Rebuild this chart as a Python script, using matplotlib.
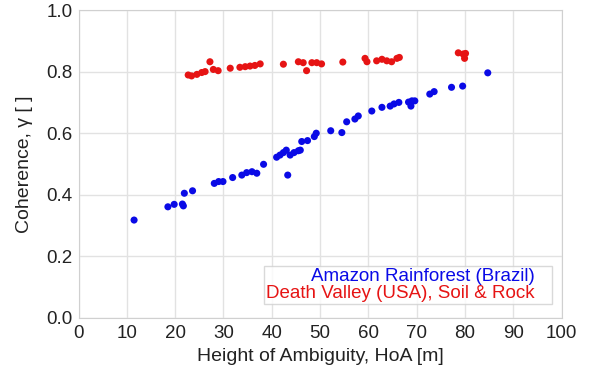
import matplotlib
matplotlib.use("Agg")
import matplotlib.pyplot as plt
from matplotlib.lines import Line2D

plt.rcParams['font.family'] = ['Liberation Sans', 'DejaVu Sans']

amazon_hoa = [11.5, 18.5, 19.8, 21.5, 21.7, 21.9, 23.6, 28.1, 29.0, 29.9, 31.9, 33.8, 34.8,
              35.9, 36.9, 38.3, 41.0, 41.7, 42.4, 43.0, 43.3, 43.8, 44.6, 45.5, 45.9, 46.2,
              47.4, 48.8, 49.2, 52.2, 54.5, 55.5, 57.2, 57.9, 60.7, 62.8, 64.5, 65.3, 66.3,
              68.3, 68.8, 69.0, 69.6, 72.7, 73.6, 77.2, 79.5, 84.7]
amazon_coh = [0.318, 0.361, 0.369, 0.370, 0.364, 0.405, 0.413, 0.437, 0.443, 0.443, 0.456,
              0.464, 0.472, 0.475, 0.470, 0.499, 0.522, 0.529, 0.537, 0.545, 0.464, 0.529,
              0.537, 0.543, 0.545, 0.573, 0.576, 0.589, 0.600, 0.608, 0.602, 0.637, 0.646,
              0.656, 0.672, 0.684, 0.688, 0.695, 0.700, 0.701, 0.688, 0.705, 0.705, 0.727,
              0.735, 0.749, 0.753, 0.796]

dv_hoa = [22.7, 23.4, 24.5, 25.5, 26.2, 27.2, 27.9, 28.9, 31.4, 33.4, 34.5, 35.5, 36.5,
          37.6, 42.4, 45.5, 46.5, 47.2, 48.3, 49.3, 50.3, 54.7, 59.3, 59.7, 61.7, 62.8,
          63.8, 64.8, 65.9, 66.4, 78.6, 79.6, 80.1, 79.9]
dv_coh = [0.789, 0.786, 0.791, 0.797, 0.800, 0.832, 0.807, 0.803, 0.811, 0.814, 0.816,
          0.818, 0.820, 0.825, 0.824, 0.832, 0.829, 0.803, 0.829, 0.829, 0.825, 0.831,
          0.843, 0.832, 0.835, 0.840, 0.835, 0.832, 0.843, 0.846, 0.861, 0.857, 0.859, 0.843]

labels = ['Amazon Rainforest (Brazil)', 'Death Valley (USA), Soil & Rock']
colors = ['#0a0ae6', '#e61414']
xticks = list(range(0, 101, 10))
yticks = [0.0, 0.2, 0.4, 0.6, 0.8, 1.0]
ytick_labels = ['0.0', '0.2', '0.4', '0.6', '0.8', '1.0']

fig = plt.figure(figsize=(5.93, 3.72), dpi=100)
ax = fig.add_axes([0.1324, 0.1452, 0.8148, 0.8279])

ax.scatter(amazon_hoa, amazon_coh, s=26, color=colors[0], edgecolors='none', zorder=3)
ax.scatter(dv_hoa, dv_coh, s=26, color=colors[1], edgecolors='none', zorder=3)

ax.set_xlim(0, 100)
ax.set_ylim(0, 1.0)
ax.set_xticks(xticks)
ax.set_yticks(yticks)
ax.set_yticklabels(ytick_labels)
ax.tick_params(length=0, labelsize=13.5, colors='#222222')
ax.tick_params(axis='x', pad=5.3)
ax.tick_params(axis='y', pad=4.3)
ax.grid(True, color='#e2e2e2', linewidth=1)
ax.set_axisbelow(True)
for sp in ax.spines.values():
    sp.set_color('#d0d0d0')

ax.set_xlabel('Height of Ambiguity, HoA [m]', fontsize=14, color='#222222', va='top')
ax.xaxis.set_label_coords(0.5, -0.098)
ax.set_ylabel('Coherence, \u03b3 [ ]', fontsize=14, color='#222222')
ax.yaxis.set_label_coords(-0.094, 0.5)

handles = [Line2D([], [], linestyle='none') for _ in labels]
leg = ax.legend(handles, labels, loc='lower right', bbox_to_anchor=(0.979, 0.047),
                borderaxespad=0, handlelength=0.8, handletextpad=0, fontsize=13.5,
                labelspacing=0.0, frameon=True, fancybox=False, borderpad=0.1,
                markerfirst=False)
leg.get_frame().set_edgecolor('#d0d0d0')
leg.get_frame().set_linewidth(1)
for t, c in zip(leg.get_texts(), colors):
    t.set_color(c)
leg._legend_box.align = 'right'
for vp in leg.get_children()[0].get_children()[1].get_children()[0].get_children():
    vp.align = 'right'

fig.savefig('out.png', dpi=100)
